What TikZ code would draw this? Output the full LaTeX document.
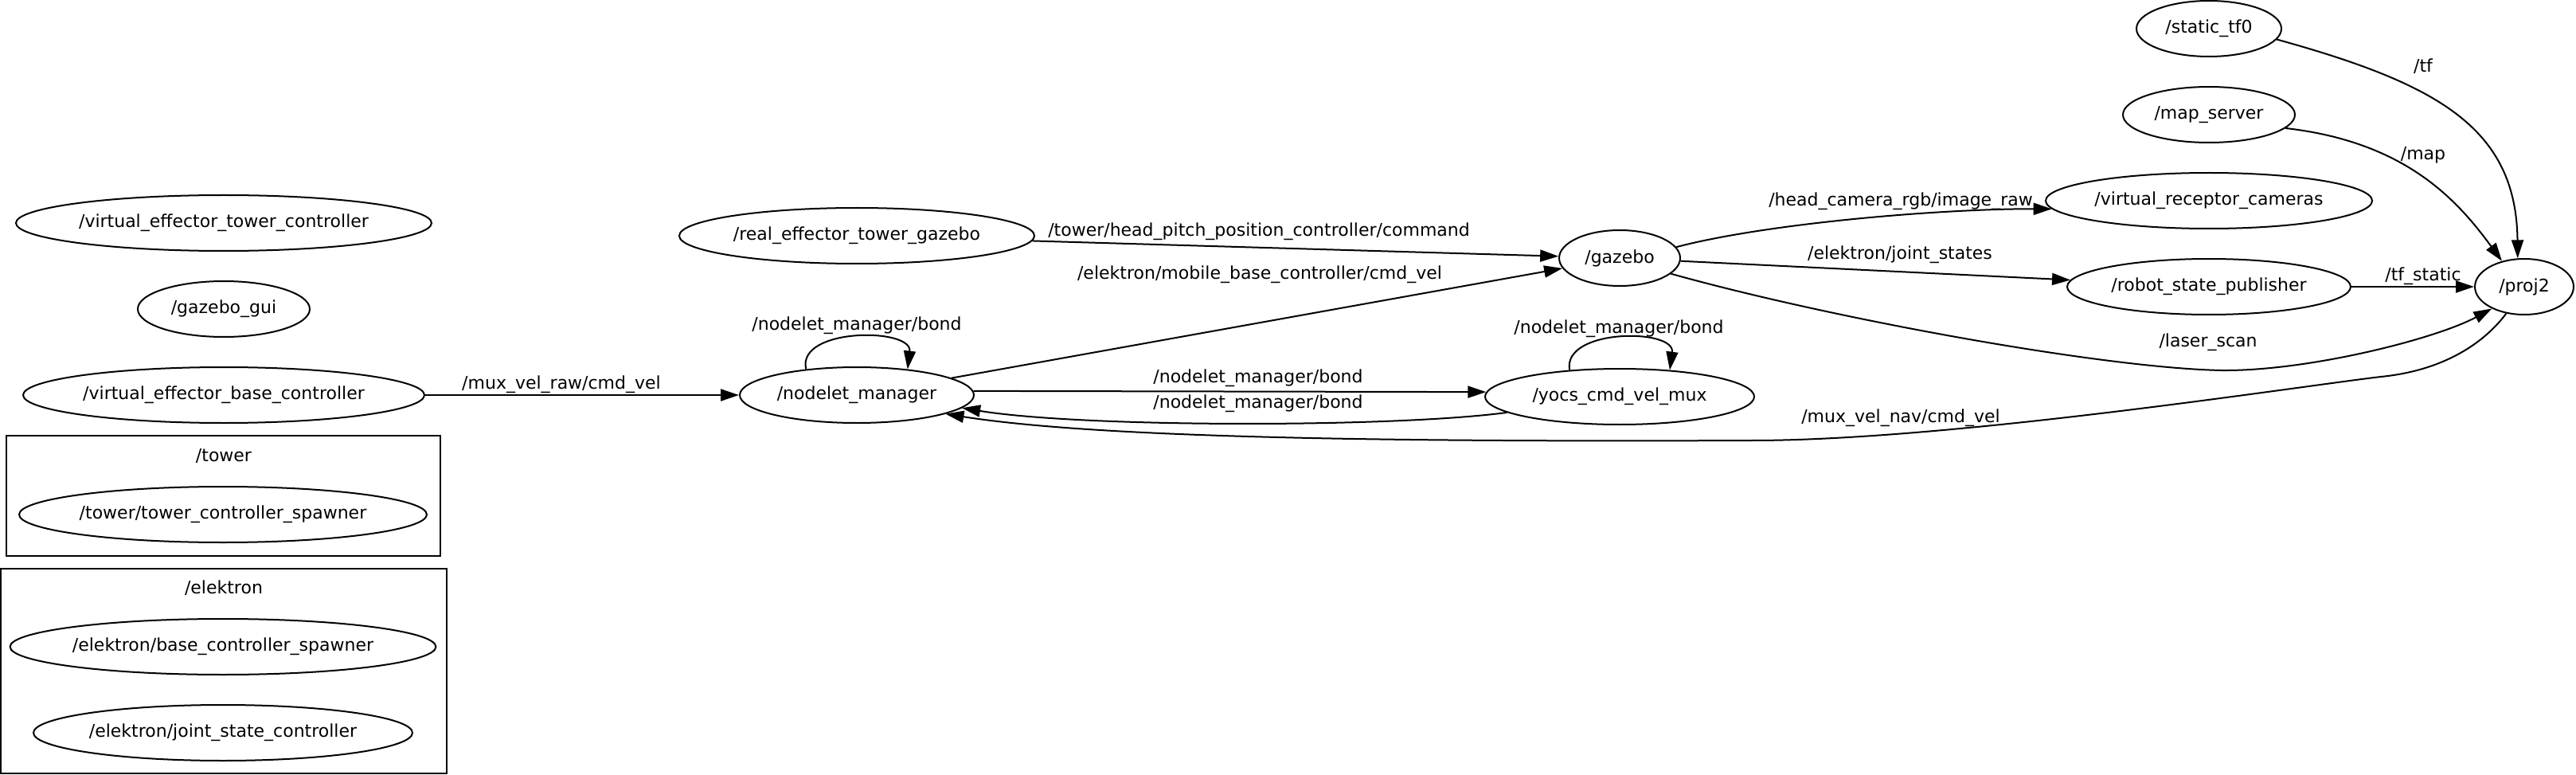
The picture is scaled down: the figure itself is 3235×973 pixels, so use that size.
\documentclass[tikz,border=0pt]{standalone}
\usepackage{fontspec}
\setmainfont{DejaVu Sans}
\usetikzlibrary{arrows.meta,shapes.geometric}

\begin{document}
\begin{tikzpicture}
    [x=0.5pt, y=-0.5pt,
    font=\fontsize{11}{13}\selectfont,
        node distance =54pt,
    line width=1pt,
    proc/.style={draw, ellipse, inner xsep=0pt, inner ysep=0pt, minimum height=35pt},
    edge/.style={-{Triangle[length=11.5pt, width=7.5pt]}},
    lbl/.style={inner sep=0pt}]
        \useasboundingbox (0,0) rectangle (3235,973);
        % Left column
        \node[proc, minimum width=261pt] (vetc) at (281,280) {/virtual\_effector\_tower\_controller};
        \node[proc, minimum width=108pt, below of = vetc] (gzgui) {/gazebo\_gui};
        \node[proc, minimum width=252pt, below of = gzgui] (vebc) {/virtual\_effector\_base\_controller};

        \draw (8,547) rectangle (553,698);
        \node (towerlbl) at (281,572) {/tower};
        \node[proc, minimum width=256pt] (tcs) at (280,646) {/tower/tower\_controller\_spawner};

        \draw (1,714) rectangle (561,971);
        \node (elektronlbl) at (281,738) {/elektron};
        \node[proc, minimum width=263pt] (bcs) at (280,812) {/elektron/base\_controller\_spawner};
        \node[proc, minimum width=238pt] (jsc) at (280,920) {/elektron/joint\_state\_controller};

        % Middle
        \node[proc, minimum width=223pt] (retg) at (1076,296) {/real\_effector\_tower\_gazebo};
        \node[proc, minimum width=147pt] (nm) at (1076,496) {/nodelet\_manager};
        \node[proc, minimum width=76pt] (gz) at (2034,324) {/gazebo};
        \node[proc, minimum width=169pt] (yocs) at (2034,498) {/yocs\_cmd\_vel\_mux};

        % Right column
        \node[proc, minimum width=91pt] (st) at (2774,36) {/static\_tf0};
        \node[proc, minimum width=108pt, below of = st] (ms) {/map\_server};
        \node[proc, minimum width=205pt, below of = ms] (vrc) {/virtual\_receptor\_cameras};
        \node[proc, minimum width=178pt, below of = vrc] (rsp) {/robot\_state\_publisher};
        \node[proc, minimum width=62pt] (pj) at (3170,360) {/proj2};

        % Topics
        \draw[edge] (vebc) -- (nm);
        \draw[edge] (retg) -- (gz);
        \draw[edge] (nm) -- (gz);
        \draw[edge] (nm.153) .. controls (1000,411) and (1146,411) .. (nm.27);
        \draw[edge] (nm.2) -- (yocs.178);
        \draw[edge] (yocs.188) .. controls (1750,537) and (1360,537) .. (nm.353);
        \draw[edge] (yocs.152) .. controls (1962,412) and (2104,412) .. (yocs.28);
        \draw[edge] (gz.11) .. controls (2220,280) and (2440,262) .. (vrc.183);
        \draw[edge] (gz) -- (rsp);
        \draw[edge] (gz.343) .. controls (2300,400) and (2640,462) .. (2790,465)
            .. controls (2900,466) and (3060,425) .. (pj.214);
        \draw[edge] (rsp) -- (pj);
        \draw[edge] (st.351) .. controls (3060,105) and (3160,160) .. (pj.103);
        \draw[edge] (ms.350) .. controls (3020,178) and (3085,250) .. (pj.131);
        \draw[edge] (pj.236) .. controls (3120,430) and (3070,465) .. (2990,473)
            .. controls (2880,486) and (2450,553) .. (2200,553)
            .. controls (1750,555) and (1380,550) .. (nm.348);

        \node[lbl] (lrawvel) at (705,483) {/mux\_vel\_raw/cmd\_vel};
        \node[lbl] (lpitch) at (1581,291) {/tower/head\_pitch\_position\_controller/command};
        \node[lbl] (lbasevel) at (1582,345) {/elektron/mobile\_base\_controller/cmd\_vel};
        \node[lbl] (lbondA) at (1076,409) {/nodelet\_manager/bond};
        \node[lbl] (lbondB) at (1580,475) {/nodelet\_manager/bond};
        \node[lbl] (lbondC) at (1580,507) {/nodelet\_manager/bond};
        \node[lbl] (lbondD) at (2033,413) {/nodelet\_manager/bond};
        \node[lbl] (limage) at (2387,253) {/head\_camera\_rgb/image\_raw};
        \node[lbl] (ljoint) at (2386,320) {/elektron/joint\_states};
        \node[lbl] (llaser) at (2773,430) {/laser\_scan};
        \node[lbl] (ltfstatic) at (3043,347) {/tf\_static};
        \node[lbl] (ltf) at (3043,83) {/tf};
        \node[lbl] (lmap) at (3043,195) {/map};
        \node[lbl] (lnavvel) at (2387,525) {/mux\_vel\_nav/cmd\_vel};
    \end{tikzpicture}
\end{document}
